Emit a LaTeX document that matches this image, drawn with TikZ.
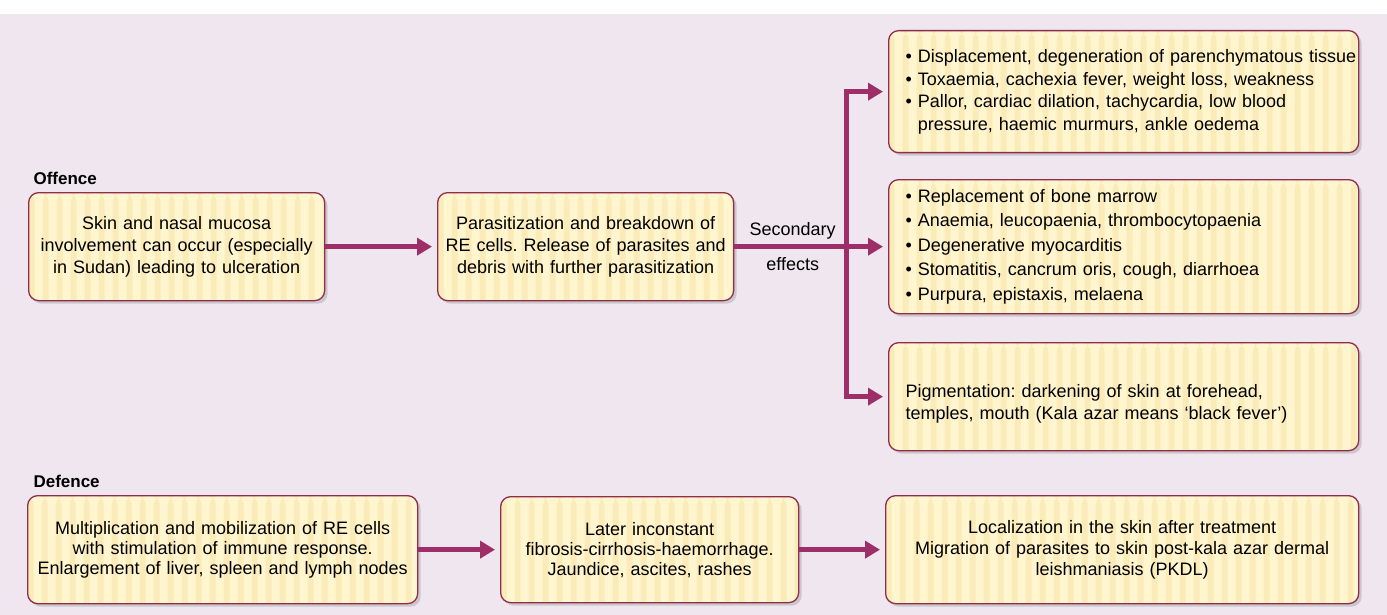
\documentclass[tikz,border=0pt]{standalone}
\usepackage{fontspec}
\setmainfont{Liberation Sans}
\usetikzlibrary{arrows.meta, positioning, shadows}
\definecolor{kzback}{HTML}{EFE6EF}
\definecolor{kzfill}{HTML}{FFF5CF}
\definecolor{kzstripe}{HTML}{F6E4A6}
\definecolor{kzrim}{HTML}{8E2D4C}
\definecolor{kzarrow}{HTML}{9E2E68}
\frenchspacing

\begin{document}
\begin{tikzpicture}[x=1pt, y=-1pt,
    every node/.style={font=\fontsize{18}{22}\selectfont},
    stripes/.style={path picture={
        \foreach \k in {0,14,...,490}
            \fill[kzstripe, opacity=0.55] ([xshift=\k pt]path picture bounding box.north west) rectangle ++(6pt,-160pt);
    }},
    effectbox/.style={draw=kzrim, line width=1.3pt, fill=kzfill, rounded corners=10pt, stripes,
        drop shadow={opacity=0.3, shadow xshift=3pt, shadow yshift=-3pt},
        anchor=north west, inner sep=0pt, align=center},
    listbox/.style={effectbox, align=left, inner xsep=17pt},
    flow/.style={draw=kzarrow, line width=4.5pt, -{Triangle[length=15pt, width=17pt]}, shorten >=5pt},
    side/.style={font=\bfseries\fontsize{17}{20}\selectfont, anchor=base west},
]
    \useasboundingbox (0,0) rectangle (1387,615);
    \fill[white] (0,0) rectangle (1387,615);
    \fill[kzback] (0,14) rectangle (1387,615);

    % Offence row
    \node[side] (offence) at (30,184) {Offence};
    \node[effectbox, minimum width=296pt, minimum height=108pt, text width=286pt] (mucosa) at (28,192)
        {Skin and nasal mucosa\\ involvement can occur (especially\\ in Sudan) leading to ulceration};
    \node[effectbox, minimum width=296pt, minimum height=108pt, text width=286pt] (breakdown) at (437,192)
        {Parasitization and breakdown of\\ RE cells. Release of parasites and\\ debris with further parasitization};

    % secondary effects
    \node[listbox, minimum height=122pt, text width=436pt, font=\fontsize{18}{22.5}\selectfont] (systemic) at (888,30)
        {\mbox{\textbullet\ Displacement, degeneration of parenchymatous tissue}\\
         \textbullet\ Toxaemia, cachexia fever, weight loss, weakness\\
         \textbullet\ Pallor, cardiac dilation, tachycardia, low blood\\
         \phantom{\textbullet\ }pressure, haemic murmurs, ankle oedema};
    \node[listbox, minimum height=134pt, text width=436pt, font=\fontsize{18}{24.5}\selectfont] (marrow) at (888,179)
        {\textbullet\ Replacement of bone marrow\\
         \textbullet\ Anaemia, leucopaenia, thrombocytopaenia\\
         \textbullet\ Degenerative myocarditis\\
         \textbullet\ Stomatitis, cancrum oris, cough, diarrhoea\\
         \textbullet\ Purpura, epistaxis, melaena};
    \node[listbox, minimum height=108pt, text width=436pt] (pigment) at (888,342)
        {\mbox{}\\[6pt]Pigmentation: darkening of skin at forehead,\\ temples, mouth (Kala azar means `black fever')};

    \draw[flow] (mucosa) -- (breakdown);
    \coordinate (split) at ([xshift=112pt]breakdown.east);
    \draw[flow] (breakdown) -- node[pos=0.38, align=center] {Secondary\\[13pt]effects} (marrow);
    \draw[flow] (split) |- (systemic);
    \draw[flow] (split) |- (pigment);

    % Defence row
    \node[side] (defence) at (30,487) {Defence};
    \node[effectbox, minimum width=390pt, minimum height=108pt, text width=380pt, font=\fontsize{18}{20}\selectfont] (immune) at (27,495)
        {Multiplication and mobilization of RE cells\\ with stimulation of immune response.\\ Enlargement of liver, spleen and lymph nodes};
    \node[effectbox, minimum width=298pt, minimum height=106pt, text width=288pt, font=\fontsize{18}{20}\selectfont] (fibrosis) at (500,496)
        {Later inconstant\\ fibrosis-cirrhosis-haemorrhage.\\ Jaundice, ascites, rashes};
    \node[effectbox, minimum width=473pt, minimum height=108pt, text width=463pt, font=\fontsize{18}{21}\selectfont] (pkdl) at (885,495)
        {Localization in the skin after treatment\\ Migration of parasites to skin post-kala azar dermal\\ leishmaniasis (PKDL)};

    \draw[flow] (immune) -- (fibrosis);
    \draw[flow] (fibrosis) -- (pkdl);
\end{tikzpicture}
\end{document}
